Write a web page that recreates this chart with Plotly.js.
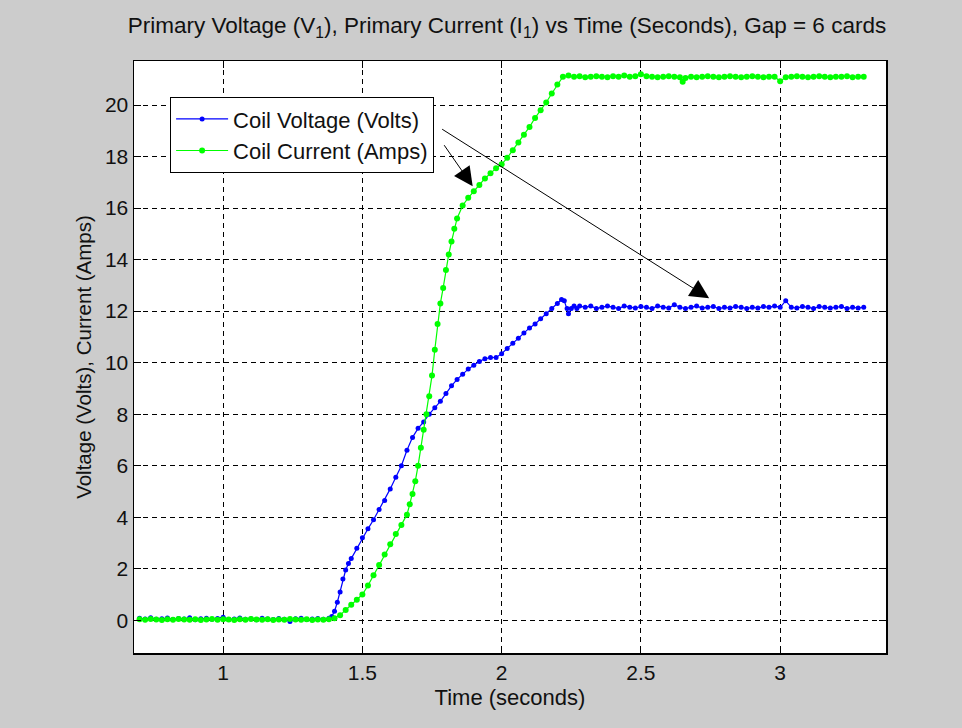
<!DOCTYPE html>
<html>
<head>
<meta charset="utf-8">
<script src="https://cdn.plot.ly/plotly-3.0.1.min.js"></script>
<style>
html,body{margin:0;padding:0;background:#cccccc;}
#chart{width:962px;height:728px;}
</style>
</head>
<body>
<div id="chart"></div>
<script>
// Coil voltage (blue) – time (s) and volts
const timeVoltage = [
  0.70,0.72,0.74,0.76,0.78,0.80,0.82,0.84,0.86,0.88,0.90,0.92,0.94,0.96,0.98,1.00,1.02,1.04,1.06,1.08,
  1.10,1.12,1.14,1.16,1.18,1.20,1.22,1.24,1.26,1.28,1.30,1.32,1.34,1.36,1.38,
  1.39,1.40,1.41,1.42,1.43,1.44,1.45,1.46,1.48,1.50,1.52,1.54,1.56,1.58,1.60,1.62,1.64,1.66,1.68,1.70,
  1.72,1.74,1.76,1.78,1.80,1.82,1.84,1.86,1.88,1.90,1.92,1.94,1.96,1.98,2.00,2.02,2.04,2.06,2.08,2.10,
  2.12,2.14,2.16,2.18,2.20,2.215,2.225,2.235,2.24,2.25,2.26,2.27,2.28,
  2.30,2.32,2.34,2.36,2.38,2.40,2.42,2.44,2.46,2.48,2.50,2.52,2.54,2.56,2.58,2.60,2.62,2.64,2.66,2.68,
  2.70,2.72,2.74,2.76,2.78,2.80,2.82,2.84,2.86,2.88,2.90,2.92,2.94,2.96,2.98,3.00,3.02,3.04,3.06,3.08,
  3.10,3.12,3.14,3.16,3.18,3.20,3.22,3.24,3.26,3.28,3.30
];
const coilVoltage = [
  0.08,0.05,0.10,0.04,0.06,0.09,0.03,0.07,0.05,0.10,0.02,0.06,0.08,0.04,0.07,0.12,0.03,0.05,0.09,0.04,
  0.06,0.02,0.08,0.05,0.03,0.07,0.04,-0.05,0.06,0.08,0.03,0.05,0.07,0.04,0.08,
  0.15,0.35,0.70,1.10,1.60,1.95,2.20,2.40,2.80,3.20,3.55,3.90,4.30,4.65,5.10,5.55,6.00,6.60,7.10,7.45,
  7.70,8.00,8.25,8.50,8.80,9.10,9.35,9.55,9.75,9.90,10.05,10.15,10.20,10.20,10.35,10.55,10.75,10.95,11.15,11.35,
  11.50,11.70,11.90,12.10,12.30,12.45,12.40,12.10,11.90,12.10,12.20,12.10,12.20,
  12.15,12.20,12.10,12.15,12.20,12.15,12.10,12.20,12.15,12.12,12.18,12.15,12.10,12.20,12.15,12.12,12.25,12.15,12.10,12.15,
  12.20,12.12,12.15,12.18,12.10,12.15,12.12,12.18,12.15,12.10,12.15,12.12,12.18,12.15,12.20,12.15,12.40,12.15,12.12,12.18,
  12.15,12.10,12.18,12.15,12.12,12.15,12.18,12.10,12.15,12.12,12.15
];

// Coil current (green) – time (s) and amps
const timeCurrent = [
  0.70,0.72,0.74,0.76,0.78,0.80,0.82,0.84,0.86,0.88,0.90,0.92,0.94,0.96,0.98,1.00,1.02,1.04,1.06,1.08,
  1.10,1.12,1.14,1.16,1.18,1.20,1.22,1.24,1.26,1.28,1.30,1.32,1.34,1.36,1.38,
  1.40,1.42,1.44,1.46,1.48,1.50,1.52,1.54,1.56,1.58,1.60,1.62,1.64,1.66,1.67,1.68,1.69,1.70,1.71,1.72,
  1.73,1.74,1.75,1.76,1.77,1.78,1.79,1.80,1.81,1.82,1.83,1.84,1.86,1.88,1.90,1.92,1.94,1.96,1.98,2.00,
  2.02,2.04,2.06,2.08,2.10,2.12,2.14,2.16,2.18,2.20,2.22,2.24,
  2.26,2.28,2.30,2.32,2.34,2.36,2.38,2.40,2.42,2.44,2.46,2.48,2.50,2.52,2.54,2.56,2.58,2.60,2.62,2.64,
  2.65,2.66,2.68,2.70,2.72,2.74,2.76,2.78,2.80,2.82,2.84,2.86,2.88,2.90,2.92,2.94,2.96,2.98,3.00,3.02,
  3.04,3.06,3.08,3.10,3.12,3.14,3.16,3.18,3.20,3.22,3.24,3.26,3.28,3.30
];
const coilCurrent = [
  0.04,0.02,0.05,0.03,0.01,0.04,0.02,0.05,0.03,0.02,0.04,0.01,0.03,0.05,0.02,0.04,0.03,0.01,0.04,0.02,
  0.05,0.03,0.02,0.04,0.01,0.03,0.02,0.05,0.03,0.02,0.04,0.01,0.03,0.02,0.04,
  0.08,0.20,0.40,0.60,0.80,1.00,1.35,1.75,2.15,2.55,2.95,3.35,3.70,4.10,4.50,4.90,5.40,6.00,6.70,7.40,
  8.00,8.70,9.50,10.50,11.50,12.30,12.90,13.60,14.20,14.70,15.20,15.60,16.10,16.40,16.65,16.90,17.15,17.35,17.55,17.70,
  17.95,18.25,18.55,18.85,19.15,19.50,19.80,20.10,20.45,20.80,21.10,21.15,
  21.10,21.12,21.08,21.10,21.12,21.10,21.08,21.12,21.10,21.15,21.10,21.12,21.20,21.12,21.10,21.08,21.10,21.12,21.10,21.08,
  20.90,21.05,21.10,21.08,21.10,21.12,21.10,21.08,21.10,21.12,21.10,21.08,21.10,21.12,21.10,21.08,21.10,21.10,20.92,21.08,
  21.10,21.12,21.10,21.08,21.10,21.12,21.10,21.08,21.10,21.10,21.12,21.08,21.10,21.10
];

const seriesNames = ['Coil Voltage (Volts)', 'Coil Current (Amps)'];
const xTicks = [1, 1.5, 2, 2.5, 3];
const xTickText = ['1', '1.5', '2', '2.5', '3'];
const yTicks = [0, 2, 4, 6, 8, 10, 12, 14, 16, 18, 20];
const yTickText = ['0','2','4','6','8','10','12','14','16','18','20'];

// arrows: [tipX, tipY, tailX, tailY] in data units
const arrowVoltage = [2.745, 12.50, 1.781, 19.10];
const arrowCurrent = [1.896, 16.85, 1.790, 18.50];

const font = 'Liberation Sans, Arial, Helvetica, sans-serif';

const traces = [
  {
    x: timeVoltage, y: coilVoltage, name: seriesNames[0],
    type: 'scatter', mode: 'lines+markers',
    line: {color: '#0000ff', width: 1.2},
    marker: {color: '#0000ff', size: 5}
  },
  {
    x: timeCurrent, y: coilCurrent, name: seriesNames[1],
    type: 'scatter', mode: 'lines+markers',
    line: {color: '#00ff00', width: 1.2},
    marker: {color: '#00ff00', size: 6}
  }
];

function arrowAnn(a) {
  return {
    x: a[0], y: a[1], ax: a[2], ay: a[3],
    xref: 'x', yref: 'y', axref: 'x', ayref: 'y',
    text: '', showarrow: true, arrowhead: 2, arrowsize: 3.8,
    arrowwidth: 1, arrowcolor: '#000000', standoff: 0
  };
}

const axisCommon = {
  showline: true, linecolor: '#000000', linewidth: 1.5, mirror: 'ticks',
  ticks: 'inside', ticklen: 7, tickcolor: '#000000', tickwidth: 1,
  showgrid: true, gridcolor: '#000000', gridwidth: 1, griddash: '5px,4px',
  zeroline: false, tickfont: {family: font, size: 21, color: '#111111'}
};

const layout = {
  width: 962, height: 728,
  paper_bgcolor: '#cccccc', plot_bgcolor: '#ffffff',
  margin: {l: 134, r: 76, t: 61, b: 75},
  title: {
    text: 'Primary Voltage (V<sub>1</sub>), Primary Current (I<sub>1</sub>) vs Time (Seconds), Gap = 6 cards',
    font: {family: font, size: 22.5, color: '#111111'},
    x: 0.527, xanchor: 'center', y: 0.965, yanchor: 'middle'
  },
  xaxis: Object.assign({}, axisCommon, {
    range: [0.68, 3.38], tickvals: xTicks, ticktext: xTickText,
    title: {text: 'Time (seconds)', font: {family: font, size: 22, color: '#111111'}, standoff: 7}
  }),
  yaxis: Object.assign({}, axisCommon, {
    range: [-1.27, 21.71], tickvals: yTicks, ticktext: yTickText,
    title: {text: 'Voltage (Volts), Current (Amps)', font: {family: font, size: 20.5, color: '#111111'}, standoff: 8}
  }),
  showlegend: true,
  legend: {
    x: 0.048, y: 0.939, xanchor: 'left', yanchor: 'top',
    bgcolor: '#ffffff', bordercolor: '#000000', borderwidth: 1,
    font: {family: font, size: 22, color: '#111111'},
    tracegroupgap: 0, itemwidth: 52
  },
  annotations: [arrowAnn(arrowVoltage), arrowAnn(arrowCurrent)]
};

Plotly.newPlot('chart', traces, layout, {displayModeBar: false, staticPlot: true});
</script>
</body>
</html>
